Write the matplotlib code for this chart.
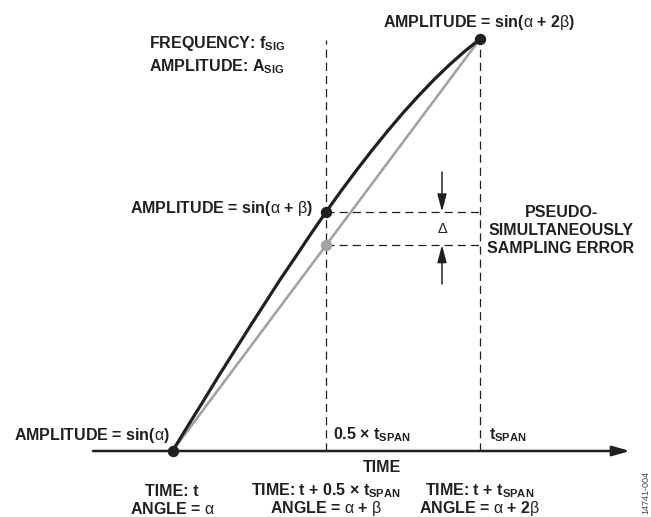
import matplotlib
matplotlib.use('Agg')
import matplotlib.pyplot as plt

plt.rcParams['font.family'] = ['Liberation Sans', 'DejaVu Sans']
plt.rcParams['mathtext.fontset'] = 'custom'
plt.rcParams['mathtext.rm'] = 'Liberation Sans'
plt.rcParams['mathtext.bf'] = 'Liberation Sans:bold'
plt.rcParams['mathtext.it'] = 'Liberation Sans:italic'

# time as fraction of t_SPAN, amplitude normalised so sin(a)=0 and sin(a+2b)=1
curve_t = [0.0, 0.05, 0.1, 0.15, 0.2, 0.25, 0.3, 0.35, 0.4, 0.45, 0.5,
           0.55, 0.6, 0.65, 0.7, 0.75, 0.8, 0.85, 0.9, 0.95, 1.0]
curve_amp = [0.0, 0.061, 0.121, 0.182, 0.241, 0.300, 0.358, 0.416, 0.471, 0.527, 0.581,
             0.633, 0.683, 0.731, 0.777, 0.821, 0.862, 0.901, 0.937, 0.970, 1.0]

sample_t = [0.0, 0.5, 1.0]
sample_amp = [0.0, 0.581, 1.0]

linear_t = [0.0, 1.0]
linear_amp = [0.0, 1.0]
linear_mid = (0.5, 0.5)

dark = '#231f20'
grey = '#a3a3a3'

# pixel -> data helper (for labels / decorations)
def px(x, y):
    return ((x - 172.5) / 307.5, (451 - y) / 412)

fig = plt.figure(figsize=(6.51, 5.17), dpi=100)
ax = fig.add_axes([0, 0, 1, 1])
ax.set_xlim(px(0, 0)[0], px(651, 0)[0])
ax.set_ylim(px(0, 517)[1], px(0, 0)[1])
ax.axis('off')

dash = (0, (6.5, 4.0))
# vertical guides
ax.plot([0.5, 0.5], [0, px(0, 40)[1]], color=dark, lw=0.9, ls=dash)
ax.plot([1.0, 1.0], [0, 1.0], color=dark, lw=0.9, ls=dash)
# horizontal guides
ax.plot([0.5, 1.0], [sample_amp[1]] * 2, color=dark, lw=0.9, ls=dash)
ax.plot([0.5, 1.0], [linear_mid[1]] * 2, color=dark, lw=0.9, ls=dash)

# time axis
ax.annotate('', xy=px(630, 451), xytext=px(93, 451),
            arrowprops=dict(arrowstyle='-|>,head_length=1.05,head_width=0.3', lw=1.8,
                            color=dark, mutation_scale=10, shrinkA=0, shrinkB=0))

# curves
ax.plot(linear_t, linear_amp, color=grey, lw=1.9, zorder=3)
ax.plot(curve_t, curve_amp, color=dark, lw=2.3, zorder=4, solid_joinstyle='round')
ax.plot([linear_mid[0]], [linear_mid[1]], 'o', color=grey, ms=7.2, zorder=5)
ax.plot(sample_t, sample_amp, 'o', color=dark, ms=7.2, zorder=6)

# delta arrows
xa = px(442, 0)[0]
ax.annotate('', xy=(xa, sample_amp[1]), xytext=(xa, px(0, 172)[1]),
            arrowprops=dict(arrowstyle='-|>,head_length=1.05,head_width=0.28', lw=1.1,
                            color=dark, mutation_scale=10, shrinkA=0, shrinkB=0))
ax.annotate('', xy=(xa, linear_mid[1]), xytext=(xa, px(0, 284)[1]),
            arrowprops=dict(arrowstyle='-|>,head_length=1.05,head_width=0.28', lw=1.1,
                            color=dark, mutation_scale=10, shrinkA=0, shrinkB=0))
ax.text(*px(443, 229), 'Δ', ha='center', va='center', fontsize=10.5, color=dark)

fs = 11.5
A = r'$\mathrm{\alpha}$'
B = r'$\mathrm{\beta}$'
labels = [
    (217, 48, 'center', r'FREQUENCY: f${}_{\mathbf{SIG}}$'),
    (217, 71, 'center', r'AMPLITUDE: A${}_{\mathbf{SIG}}$'),
    (479, 27, 'center', 'AMPLITUDE = sin(' + A + ' + 2' + B + ')'),
    (313, 213, 'right', 'AMPLITUDE = sin(' + A + ' + ' + B + ')'),
    (170, 440, 'right', 'AMPLITUDE = sin(' + A + ')'),
    (561, 216.7, 'center', 'PSEUDO-'),
    (561, 235, 'center', 'SIMULTANEOUSLY'),
    (561, 253.3, 'center', 'SAMPLING ERROR'),
    (333, 439.5, 'left', r'0.5 × t${}_{\mathbf{SPAN}}$'),
    (489, 439.5, 'left', r't${}_{\mathbf{SPAN}}$'),
    (382, 471.7, 'center', 'TIME'),
    (172, 495.5, 'center', 'TIME: t'),
    (172, 513.5, 'center', 'ANGLE = ' + A),
    (326, 495.5, 'center', r'TIME: t + 0.5 × t${}_{\mathbf{SPAN}}$'),
    (326, 513.5, 'center', 'ANGLE = ' + A + ' + ' + B),
    (480, 495.5, 'center', r'TIME: t + t${}_{\mathbf{SPAN}}$'),
    (480, 513.5, 'center', 'ANGLE = ' + A + ' + 2' + B),
]
for x, y, ha, s in labels:
    ax.text(*px(x, y), s, ha=ha, va='baseline', fontsize=fs, fontweight='bold', color=dark)

ax.text(*px(646, 492), '14741-004', rotation=90, ha='center', va='center',
        fontsize=6.5, color='#444444')

fig.savefig('out.png', dpi=100)
